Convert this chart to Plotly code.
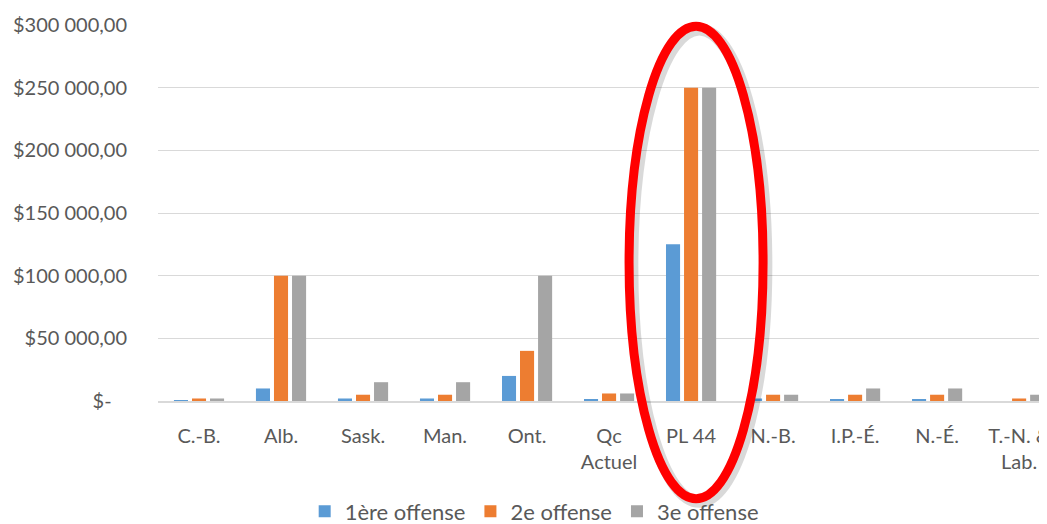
import plotly.graph_objects as go

categories = ["C.-B.", "Alb.", "Sask.", "Man.", "Ont.", "Qc<br>Actuel", "PL 44",
              "N.-B.", "I.P.-É.", "N.-É.", "T.-N. &<br>Lab."]
offense1 = [500, 10000, 2000, 2000, 20000, 1500, 125000, 2000, 1200, 1200, 0]
offense2 = [2000, 100000, 5000, 5000, 40000, 6000, 250000, 5000, 5000, 5000, 2000]
offense3 = [2000, 100000, 15000, 15000, 100000, 6000, 250000, 5000, 10000, 10000, 5000]
series_names = ["1ère offense", "2e offense", "3e offense"]
series_colors = ["#5B9BD5", "#ED7D31", "#A5A5A5"]
ytick_vals = [0, 50000, 100000, 150000, 200000, 250000, 300000]
ytick_text = ["$-\u00a0\u00a0\u00a0", "$50 000,00", "$100 000,00", "$150 000,00",
              "$200 000,00", "$250 000,00", "$300 000,00"]

font_family = "Lato, 'Open Sans', sans-serif"
text_color = "#595959"

fig = go.Figure()
for name, vals, col in zip(series_names, [offense1, offense2, offense3], series_colors):
    fig.add_trace(go.Bar(
        x=categories, y=vals, name=name,
        marker=dict(color=col, line=dict(width=0)),
    ))

# Red ellipse highlighting PL 44 (with soft shadow)
fig.add_shape(type="circle", xref="x", yref="paper",
              x0=5.244 + 0.04, x1=6.878 + 0.04, y0=-0.268, y1=0.988,
              line=dict(color="rgba(0,0,0,0.15)", width=12), layer="above")
fig.add_shape(type="circle", xref="x", yref="paper",
              x0=5.244, x1=6.878, y0=-0.26, y1=0.9965,
              line=dict(color="#FF0000", width=9), layer="above")

fig.update_layout(
    width=1039, height=516,
    margin=dict(l=150, r=0, t=17, b=123, autoexpand=False),
    paper_bgcolor="white", plot_bgcolor="white",
    barmode="group", bargap=0.34, bargroupgap=0.22,
    font=dict(family=font_family, size=20, color=text_color),
    showlegend=True,
    legend=dict(orientation="h", xref="paper", yref="paper",
                x=0.165, y=-0.294, xanchor="left", yanchor="middle",
                font=dict(size=22, color=text_color),
                itemwidth=30, tracegroupgap=0, bgcolor="rgba(0,0,0,0)"),
    xaxis=dict(type="category", range=[-0.5, 10.34], showgrid=False,
               showline=True, linecolor="#D9D9D9", linewidth=1.5,
               ticks="", ticklabelstandoff=16, automargin=False,
               tickfont=dict(size=20, color=text_color)),
    yaxis=dict(range=[0, 300000], tickvals=ytick_vals, ticktext=ytick_text,
               showgrid=True, gridcolor="#D9D9D9", gridwidth=1,
               zeroline=False, showline=False, ticks="",
               ticklabelstandoff=30, automargin=False,
               tickfont=dict(size=20, color=text_color)),
)

fig.write_html("out.html")
